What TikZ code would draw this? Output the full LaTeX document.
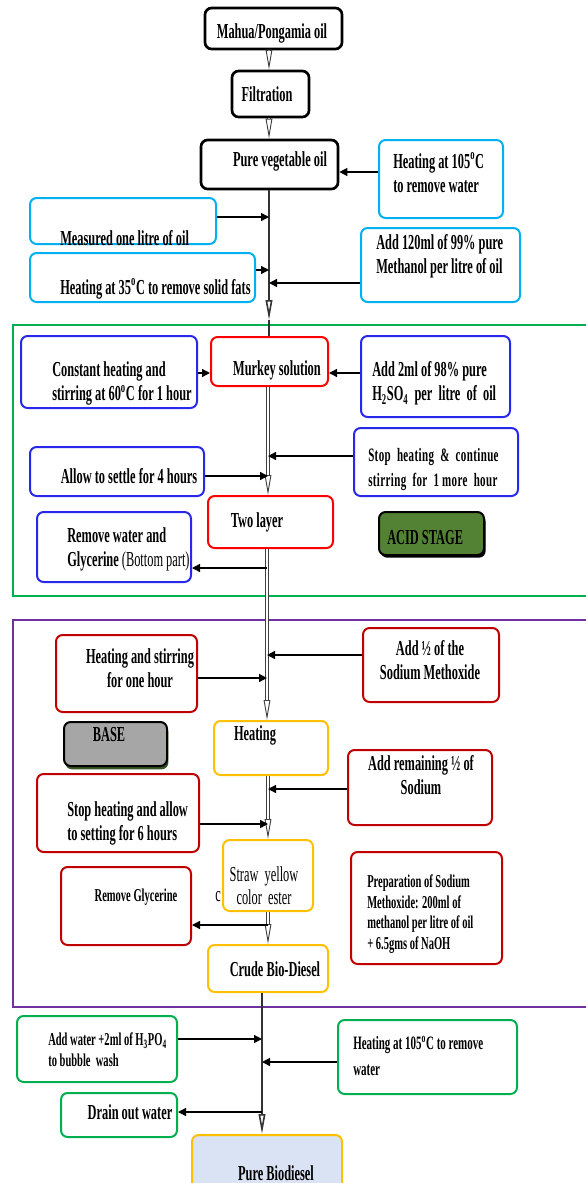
\documentclass[tikz,border=0pt]{standalone}
\usepackage{fontspec}
\setmainfont{Liberation Serif}[FakeStretch=0.58]
\usetikzlibrary{arrows.meta,shadows}

\definecolor{cyanbd}{HTML}{00B0F0}
\definecolor{bluebd}{RGB}{40,40,235}
\definecolor{redbd}{HTML}{FF0000}
\definecolor{darkred}{HTML}{C00000}
\definecolor{yellowbd}{HTML}{FFC000}
\definecolor{greenbd}{HTML}{00B050}
\definecolor{purplebd}{HTML}{7030A0}
\definecolor{acidfill}{HTML}{548235}
\definecolor{basefill}{HTML}{A6A6A6}
\definecolor{baseshadow}{HTML}{375623}
\definecolor{biofill}{HTML}{DAE3F3}

\tikzset{
  sz/.style 2 args={minimum width=#1*0.75pt, minimum height=#2*0.75pt},
  box/.style={draw, rounded corners=5pt, line width=1.5pt, inner sep=0pt, fill=white},
  blackbox/.style={box, draw=black, line width=2pt},
  cyanbox/.style={box, draw=cyanbd},
  bluebox/.style={box, draw=bluebd},
  redbox/.style={box, draw=redbd},
  drkbox/.style={box, draw=darkred},
  yelbox/.style={box, draw=yellowbd},
  grnbox/.style={box, draw=greenbd},
  txt/.style={font=\fontsize{16}{18}\selectfont\bfseries, inner sep=0pt},
  smtxt/.style={font=\fontsize{13.6}{15.5}\selectfont\bfseries, inner sep=0pt},
  thintxt/.style={font=\fontsize{16}{17.5}\selectfont, inner sep=0pt},
  feed/.style={-{Triangle[length=6pt,width=6pt]}, line width=1pt},
  flow/.style={draw=black!75, line width=0.7pt, double=white, double distance=1.5pt,
    -{Triangle[open, length=15pt, width=5pt]}},
  thinflow/.style={draw=black!80, line width=1.2pt, -{Triangle[open, length=15pt, width=5pt]}}
}

\begin{document}
\begin{tikzpicture}[x=0.75pt, y=-0.75pt]
\useasboundingbox (0,0) rectangle (586,1183);

% stage frames
\draw[greenbd, line width=1.5pt] (13,325) rectangle (590,596);
\draw[purplebd, line width=1.5pt] (13,620) rectangle (590,1007);

% points on the main line
\coordinate (jP) at (269,172);
\coordinate (jA) at (269,217);
\coordinate (jB) at (269,270);
\coordinate (jC) at (269,283);
\coordinate (jD) at (269,320);
\coordinate (jQ) at (268,373);
\coordinate (jE) at (268,456);
\coordinate (jF) at (268,476);
\coordinate (jG) at (267,568);
\coordinate (jH) at (267,655);
\coordinate (jI) at (267,678);
\coordinate (jJ) at (268,789);
\coordinate (jK) at (268,824);
\coordinate (jL) at (268,925);
\coordinate (jM) at (262,1039);
\coordinate (jN) at (262,1062);
\coordinate (jO) at (262,1112);

% pretreatment
\node[blackbox, sz={137}{41}] (mahua) at (273.5,28.5) {};
\node[txt] (mahua-t) at (272,33) {Mahua/Pongamia oil};
\node[blackbox, sz={77}{46}] (filt) at (270.5,94) {};
\node[txt] (filt-t) at (267,94) {Filtration};
\node[blackbox, sz={137}{49}] (pure) at (269.5,164.5) {};
\node[txt] (pure-t) at (280,161) {Pure vegetable oil};
\node[cyanbox, sz={124}{78}] (heatA) at (441,179) {};
\node[txt, anchor=west, align=left] (heatA-t) at (393,172.5) {Heating at 105\textsuperscript{o}C\\to remove water};
\node[cyanbox, sz={186}{46}] (measured) at (123,221) {};
\node[txt, anchor=west] (measured-t) at (60,238) {Measured one litre of oil};
\node[cyanbox, sz={225}{49}] (heat35) at (142.5,277.5) {};
\node[txt, anchor=west] (heat35-t) at (60,289) {Heating at 35\textsuperscript{o}C to remove solid fats};
\node[cyanbox, sz={159}{74}] (add120) at (440.5,265) {};
\node[txt, anchor=west, align=left] (add120-t) at (376,256.5) {Add 120ml of 99\% pure\\Methanol per litre of oil};

% acid stage
\node[redbox, sz={117}{49}] (murkey) at (269.5,361.5) {};
\node[txt] (murkey-t) at (277,370) {Murkey solution};
\node[bluebox, sz={176}{72}] (const) at (109,372) {};
\node[txt, anchor=west, align=left] (const-t) at (52,383.5) {Constant heating and\\stirring at 60\textsuperscript{o}C for 1 hour};
\node[bluebox, sz={149}{81}] (add2) at (435.5,376.5) {};
\node[txt, anchor=west, align=left] (add2-t) at (372,383.5) {Add 2ml of 98\% pure\\H\textsubscript{2}SO\textsubscript{4}~~per~~litre~~of~~oil};
\node[bluebox, sz={164}{68}] (stop1) at (436,462) {};
\node[smtxt, anchor=west, align=left, font=\fontsize{14.2}{19}\selectfont\bfseries\addfontfeatures{LetterSpace=2}] (stop1-t) at (368,469.5) {Stop~~heating~~\&~~continue\\stirring~~for~~1~more~~hour};
\node[bluebox, sz={174}{49}] (settle) at (117,471.5) {};
\node[txt] (settle-t) at (129,476) {Allow to settle for 4 hours};
\node[redbox, sz={125}{52}] (two) at (270.5,522) {};
\node[txt] (two-t) at (257,522) {Two layer};
\node[box, draw=black, fill=acidfill, sz={105}{43},
  general shadow={fill=black, shadow xshift=1.2pt, shadow yshift=-2pt}] (acid) at (431.5,533.5) {};
\node[txt, anchor=west] (acid-t) at (387,538) {ACID STAGE};
\node[bluebox, sz={154}{70}] (remw) at (114,547) {};
\node[txt, anchor=west, align=left] (remw-t) at (67,549) {Remove water and\\Glycerine {\mdseries(Bottom part)}};

% base stage
\node[drkbox, sz={141}{77}] (hs) at (126.5,673.5) {};
\node[txt, align=center] (hs-t) at (140,668) {Heating and stirring\\for one hour};
\node[drkbox, sz={136}{74}] (addhalf) at (431,665) {};
\node[txt, align=center] (addhalf-t) at (430,660.5) {Add ½ of the\\Sodium Methoxide};
\node[box, draw=black, fill=basefill, sz={103}{44},
  general shadow={fill=baseshadow, shadow xshift=1pt, shadow yshift=-2.5pt}] (base) at (115.5,744) {};
\node[txt] (base-t) at (109,735) {BASE};
\node[yelbox, sz={114}{54}] (heating) at (271,748) {};
\node[txt] (heating-t) at (255,735) {Heating};
\node[drkbox, sz={144}{75}] (addrem) at (420,787.5) {};
\node[txt, align=center] (addrem-t) at (421,775.5) {Add remaining ½ of\\Sodium};
\node[drkbox, sz={162}{78}] (stop2) at (118,813) {};
\node[txt, anchor=west, align=left] (stop2-t) at (67,823.5) {Stop heating and allow\\to setting for 6 hours};
\node[yelbox, sz={90}{71}] (straw) at (268,875.5) {};
\node[thintxt, align=center] (straw-t) at (264,885.5) {Straw~~yellow\\color~~ester};
\node[thintxt] (stray-t) at (218,897) {c};
\node[drkbox, sz={130}{78}] (remg) at (126,906) {};
\node[smtxt] (remg-t) at (136,897) {Remove Glycerine};
\node[drkbox, sz={151}{112}] (prep) at (426.5,908) {};
\node[smtxt, anchor=west, align=left] (prep-t) at (367,914) {Preparation of Sodium\\Methoxide: 200ml of\\methanol per litre of oil\\+ 6.5gms of NaOH};
\node[yelbox, sz={120}{47}] (crude) at (268,968.5) {};
\node[txt] (crude-t) at (275,969) {Crude Bio-Diesel};

% washing
\node[grnbox, sz={160}{66}] (addwat) at (97,1049) {};
\node[smtxt, anchor=west, align=left] (addwat-t) at (48,1049.5) {Add water +2ml of H\textsubscript{3}PO\textsubscript{4}\\to bubble~~wash};
\node[grnbox, sz={179}{74}] (heatB) at (427.5,1057) {};
\node[txt, anchor=west, align=left, font=\fontsize{14.2}{19}\selectfont\bfseries] (heatB-t) at (353,1056) {Heating at 105\textsuperscript{o}C to remove\\water};
\node[grnbox, sz={116}{44}] (drain) at (119,1115) {};
\node[txt] (drain-t) at (130,1112) {Drain out water};
\node[box, draw=yellowbd, fill=biofill, sz={150}{60}] (pbd) at (267,1165) {};
\node[txt] (pbd-t) at (276,1173) {Pure Biodiesel};

% main line
\draw[flow] (mahua.south -| jA) -- (filt.north -| jA);
\draw[flow] (filt.south -| jA) -- (pure.north -| jA);
\draw[thinflow] (pure.south -| jA) -- (jD);
\draw[draw=black!80, line width=1.2pt] (jD) -- (murkey.north -| jD);
\draw[flow] (murkey.south -| jE) -- (two.north -| jE);
\draw[flow] (two.south -| jG) -- (heating.north -| jG);
\draw[flow] (heating.south -| jJ) -- (straw.north -| jJ);
\draw[flow] (straw.south -| jL) -- (crude.north -| jL);
\draw[thinflow] (crude.south -| jM) -- (pbd.north -| jM);

% side feeds
\draw[feed] (heatA.west |- jP) -- (pure.east |- jP);
\draw[feed] (measured.east |- jA) -- (jA);
\draw[feed] (heat35.east |- jB) -- (jB);
\draw[feed] (add120.west |- jC) -- (jC);
\draw[feed] (const.east |- jQ) -- (murkey.west |- jQ);
\draw[feed] (add2.west |- jQ) -- (murkey.east |- jQ);
\draw[feed] (stop1.west |- jE) -- (jE);
\draw[feed] (settle.east |- jF) -- (jF);
\draw[feed] (jG) -- (remw.east |- jG);
\draw[feed] (addhalf.west |- jH) -- (jH);
\draw[feed] (hs.east |- jI) -- (jI);
\draw[feed] (addrem.west |- jJ) -- (jJ);
\draw[feed] (stop2.east |- jK) -- (jK);
\draw[feed] (jL) -- (remg.east |- jL);
\draw[feed] (addwat.east |- jM) -- (jM);
\draw[feed] (heatB.west |- jN) -- (jN);
\draw[feed] (jO) -- (drain.east |- jO);
\end{tikzpicture}
\end{document}
